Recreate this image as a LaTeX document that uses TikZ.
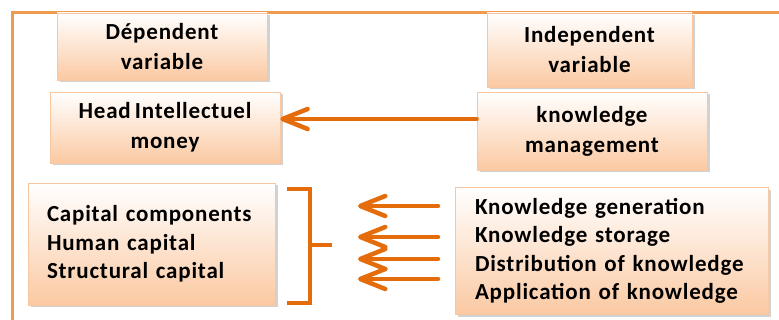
\documentclass[tikz,border=0pt]{standalone}
\usepackage{fontspec}
\setmainfont{Carlito}[LetterSpace=3.5, WordSpace=0.7]
\usetikzlibrary{arrows.meta,shadows}
\definecolor{framec}{HTML}{F09A50}
\definecolor{arrowc}{HTML}{E46C0A}
\definecolor{peach}{HTML}{FBC9A2}
\definecolor{boxline}{HTML}{F8C6A0}
\begin{document}
\begin{tikzpicture}[x=1pt, y=-1pt,
  varbox/.style={draw=boxline, line width=0.8pt, top color=white, bottom color=peach,
    drop shadow={shadow xshift=2.5pt, shadow yshift=-2.5pt, fill=black!35},
    font=\bfseries\fontsize{23}{30}\selectfont, align=center, inner sep=0pt},
  listbox/.style={varbox, font=\bfseries\fontsize{23}{28.5}\selectfont, align=left},
  arr/.style={draw=arrowc, line width=4.5pt, line cap=round,
    -{Straight Barb[length=25pt, width=20pt, line cap=round, line join=round]}},
  brk/.style={draw=arrowc, line width=4pt}]
\useasboundingbox (0,0) rectangle (779,320);
% frame
\draw[framec, line width=3pt] (779,13) -- (12,13) -- (12,320);
% variables
\node [varbox, minimum width=210pt, minimum height=67pt] (dep) at (162,46.5) {Dépendent\\variable};
\node [varbox, minimum width=205pt, minimum height=74pt] (indep) at (589.5,50) {Independent\\variable};
\node [varbox, minimum width=230pt, minimum height=71pt] (head) at (165,127.5) {Head Intellectuel\\money};
\node [varbox, minimum width=230pt, minimum height=78pt] (km) at (592,131) {knowledge\\management};
\node [listbox, minimum width=247pt, minimum height=122pt, text width=209pt] (cap) at (151.5,244)
  {Capital components\\Human capital\\Structural capital};
\node [listbox, minimum width=313pt, minimum height=127pt, text width=273pt] (kproc) at (611.5,251)
  {Knowledge generation\\Knowledge storage\\Distribution of knowledge\\Application of knowledge};
\draw [arr] ([yshift=8.5pt]head.east -| km.west) -- ([yshift=8.5pt]head.east);
% bracket
\draw [brk] (287,189) -- (310,189) -- (310,303) -- (287,303);
\coordinate (tick) at (332,245);
\draw [brk] (310,245) -- (tick);
\foreach \y [count=\i] in {206,237,259,279} {
  \coordinate (s\i) at (438,\y);
  \coordinate (t\i) at (358,\y);
  \draw [arr] (s\i) -- (t\i);
}
\end{tikzpicture}
\end{document}
